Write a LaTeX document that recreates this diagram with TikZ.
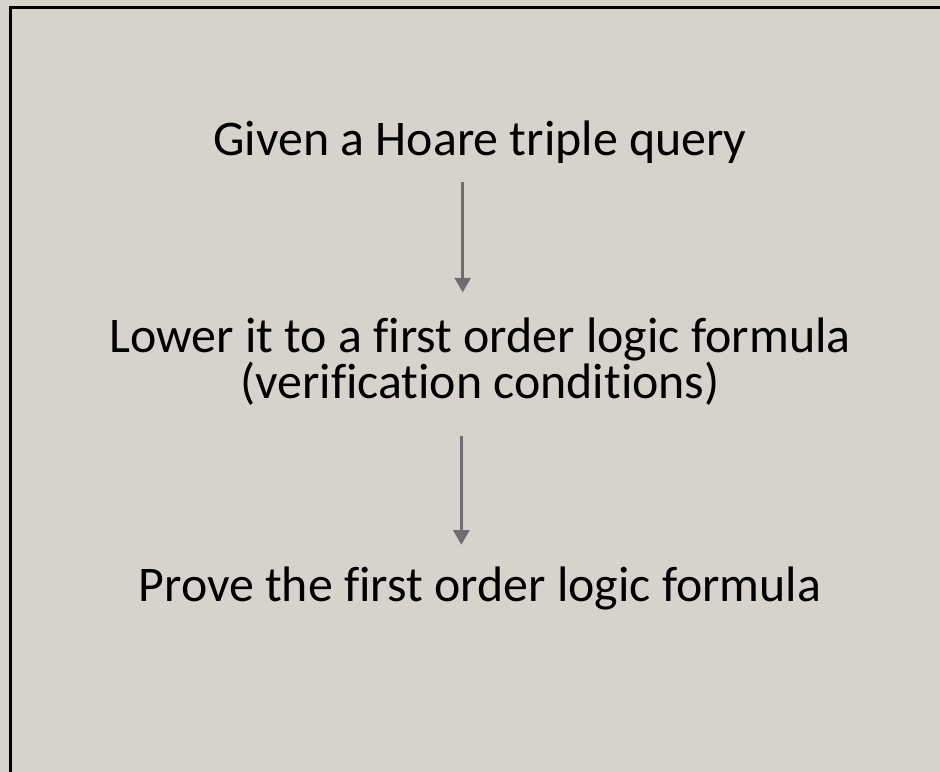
\documentclass[tikz,border=0pt]{standalone}
\usepackage{fontspec}
\setmainfont[Ligatures=NoCommon]{Carlito}
\usetikzlibrary{
  arrows.meta,
  positioning,
}
\definecolor{paper}{HTML}{D6D3CC}
\definecolor{arrowgray}{HTML}{6E6E70}

\begin{document}
\begin{tikzpicture}[x=0.75pt, y=-0.75pt,
    stage/.style={font=\fontsize{37.4}{34.5}\selectfont, align=center, inner sep=0pt},
    flow/.style={draw=arrowgray, line width=2pt,
      -{Triangle[width=12pt, length=11pt]}}]
      \useasboundingbox [fill=paper] (0,0) rectangle (940,772);
      \clip (0,0) rectangle (940,772);
      \draw [line width=2.3pt] (10.5,7.2) rectangle (960,800);
      \node [stage, anchor=base] (given) at (480,155) {Given a Hoare triple query};
      \node [stage, anchor=base] (lower) at (480,398) {Lower it to a first order logic formula\\(verification conditions)};
      \node [stage, anchor=base] (prove) at (480,601) {Prove the first order logic formula};
      \draw [flow, shorten <=14pt, shorten >=18.5pt] ([xshift=-13pt]given.south) -- ([xshift=-13pt]lower.north);
      \draw [flow, shorten <=23pt, shorten >=16pt] ([xshift=-14pt]lower.south) -- ([xshift=-14pt]prove.north);
    \end{tikzpicture}
\end{document}
